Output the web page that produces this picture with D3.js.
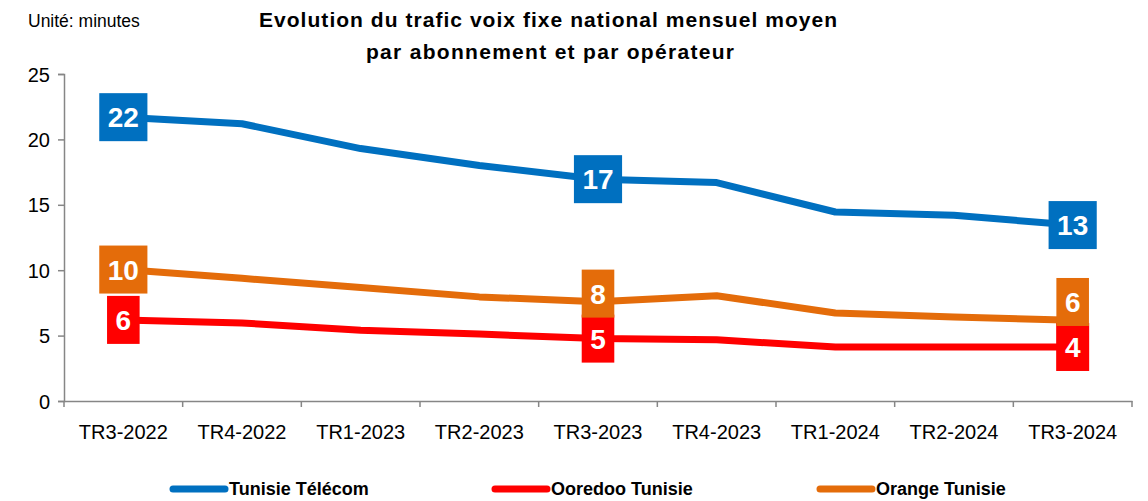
<!DOCTYPE html>
<html>
<head>
<meta charset="utf-8">
<script src="https://d3js.org/d3.v7.min.js"></script>
<style>
  body { margin: 0; background: #fff; }
  svg { font-family: "Liberation Sans", Arial, sans-serif; }
</style>
</head>
<body>
<svg id="chart" width="1148" height="501"></svg>
<script>
var categories = ['TR3-2022', 'TR4-2022', 'TR1-2023', 'TR2-2023', 'TR3-2023', 'TR4-2023', 'TR1-2024', 'TR2-2024', 'TR3-2024'];
var tunisieTelecom = [21.7, 21.2, 19.3, 18.0, 16.96, 16.7, 14.45, 14.2, 13.45];
var ooredoo = [6.2, 5.97, 5.4, 5.12, 4.77, 4.68, 4.13, 4.13, 4.13];
var orange = [10.05, 9.38, 8.68, 7.96, 7.58, 8.05, 6.73, 6.43, 6.17];
var yTicks = [0, 5, 10, 15, 20, 25];
var labelled = ['TR3-2022', 'TR3-2023', 'TR3-2024'];

var series = [
    { name: 'Tunisie Télécom', values: tunisieTelecom, color: '#0070C0' },
    { name: 'Ooredoo Tunisie', values: ooredoo, color: '#FF0000' },
    { name: 'Orange Tunisie', values: orange, color: '#E46C0A' }
];

var svg = d3.select('#chart');
var plotLeft = 64, plotRight = 1132, plotTop = 74, plotBottom = 401;

var x = d3.scaleBand().domain(categories).range([plotLeft, plotRight]);
var y = d3.scaleLinear().domain([0, 25]).range([plotBottom, plotTop]);

// axes
var yAxis = svg.append('g')
    .attr('transform', 'translate(' + plotLeft + ',0)')
    .call(d3.axisLeft(y).tickValues(yTicks).tickSize(6).tickPadding(8));
var xAxis = svg.append('g')
    .attr('transform', 'translate(0,' + plotBottom + ')')
    .call(d3.axisBottom(x).tickSize(0).tickPadding(24));

[yAxis, xAxis].forEach(function(g) {
    g.select('.domain').attr('stroke', '#868686').attr('stroke-width', 1.5);
    g.selectAll('.tick line').attr('stroke', '#868686').attr('stroke-width', 1.5);
    g.selectAll('text').attr('fill', '#000').style('font-size', '20px')
        .style('font-family', '"Liberation Sans", Arial, sans-serif');
});
yAxis.selectAll('text').attr('dy', '0.35em');

// category boundary ticks
var bounds = categories.map(function(c) { return x(c); }).concat([x.range()[1]]);
xAxis.selectAll('.bound')
    .data(bounds)
    .enter()
    .append('line')
    .attr('x1', function(d) { return d; })
    .attr('x2', function(d) { return d; })
    .attr('y1', 0)
    .attr('y2', 6)
    .attr('stroke', '#868686')
    .attr('stroke-width', 1.5);

// lines
var line = d3.line()
    .x(function(d, i) { return x(categories[i]) + x.bandwidth() / 2; })
    .y(function(d) { return y(d); });

svg.selectAll('.series')
    .data(series)
    .enter()
    .append('path')
    .attr('d', function(s) { return line(s.values); })
    .attr('fill', 'none')
    .attr('stroke', function(s) { return s.color; })
    .attr('stroke-width', 7)
    .attr('stroke-linejoin', 'round');

// value labels
var labels = svg.append('g');
series.forEach(function(s) {
    labelled.forEach(function(c) {
        var i = categories.indexOf(c);
        var cx = x(c) + x.bandwidth() / 2;
        var cy = y(s.values[i]);
        if (s.name === 'Orange Tunisie') {
            cy = Math.min(cy, y(ooredoo[i]) - 45);
        }
        var g = labels.append('g');
        var rect = g.append('rect').attr('fill', s.color);
        var t = g.append('text')
            .attr('x', cx)
            .attr('y', cy)
            .attr('dy', '0.36em')
            .attr('text-anchor', 'middle')
            .attr('fill', '#fff')
            .style('font-size', '28px')
            .style('font-weight', 'bold')
            .text(Math.round(s.values[i]));
        var w = t.node().getBBox().width + 17;
        rect.attr('x', cx - w / 2).attr('y', cy - 24).attr('width', w).attr('height', 48);
    });
});

// texts
svg.append('text')
    .attr('x', 28).attr('y', 27)
    .style('font-size', '17.5px')
    .text('Unité: minutes');

svg.append('text')
    .attr('x', 548).attr('y', 27)
    .attr('text-anchor', 'middle')
    .attr('textLength', 578).attr('lengthAdjust', 'spacing')
    .style('font-size', '21px').style('font-weight', 'bold')
    .text('Evolution du trafic voix fixe national mensuel moyen');
svg.append('text')
    .attr('x', 550).attr('y', 59)
    .attr('text-anchor', 'middle')
    .attr('textLength', 368).attr('lengthAdjust', 'spacing')
    .style('font-size', '21px').style('font-weight', 'bold')
    .text('par abonnement et par opérateur');

// legend
var legendX = [170, 492, 817];
var legend = svg.selectAll('.legend')
    .data(series)
    .enter()
    .append('g')
    .attr('transform', function(d, i) { return 'translate(' + legendX[i] + ',489)'; });
legend.append('line')
    .attr('x1', 3).attr('x2', 55)
    .attr('stroke', function(d) { return d.color; })
    .attr('stroke-width', 7)
    .attr('stroke-linecap', 'round');
legend.append('text')
    .attr('x', 59).attr('dy', '0.35em')
    .style('font-size', '18px').style('font-weight', 'bold')
    .text(function(d) { return d.name; });
</script>
</body>
</html>
